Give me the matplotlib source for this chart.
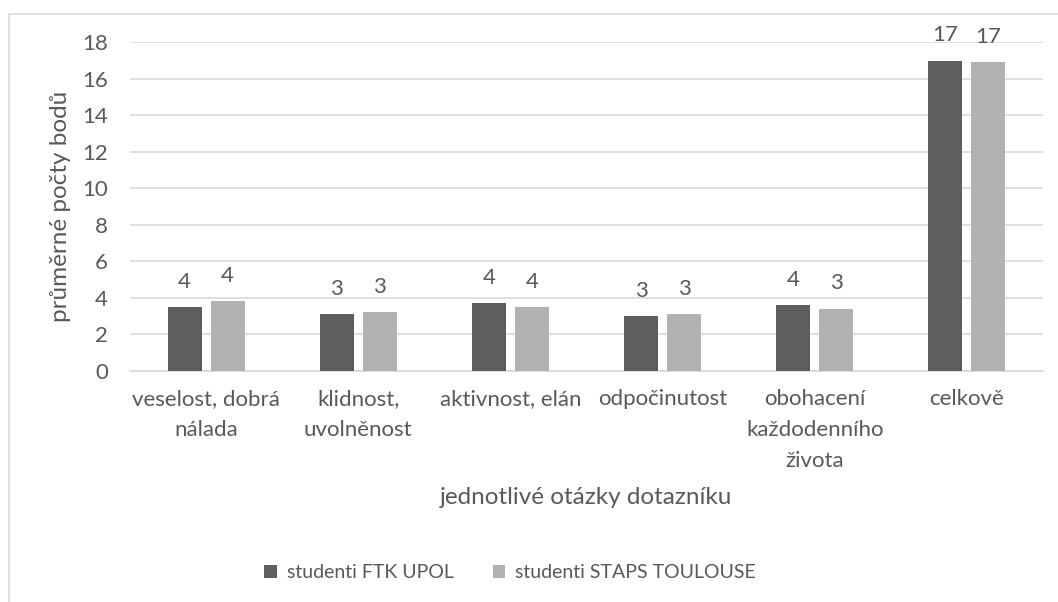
import matplotlib.pyplot as plt
from matplotlib.patches import Rectangle
import numpy as np

plt.rcParams['font.family'] = ['Lato', 'DejaVu Sans']

# data
categories = ["veselost, dobrá\nnálada", "klidnost,\nuvolněnost", "aktivnost, elán",
              "odpočinutost", "obohacení\nkaždodenního\nživota", "celkově"]
ftk_upol = [3.5, 3.1, 3.7, 3.0, 3.6, 17.0]
staps_toulouse = [3.8, 3.2, 3.5, 3.1, 3.4, 16.9]
series_names = ["studenti FTK UPOL", "studenti STAPS TOULOUSE"]
y_ticks = [0, 2, 4, 6, 8, 10, 12, 14, 16, 18]

TXT = '#595959'
GRID = '#D9D9D9'
DARK = '#5E5E5E'
LIGHT = '#B2B2B2'

fig = plt.figure(figsize=(10.58, 6.02), dpi=100)
W, H = 1058, 602
ax = fig.add_axes([130 / W, 1 - 370.7 / H, (1043 - 130) / W, (370.7 - 42.3) / H])

# outer chart border (cut at right/bottom like the source)
fig.patches.append(Rectangle((8.5 / W, -0.1), 1.2, 1 - 13.5 / H + 0.1,
                             transform=fig.transFigure, fill=False,
                             edgecolor=GRID, linewidth=1.2))

x = np.arange(len(categories))
bw = 0.224
off = 0.1415
b1 = ax.bar(x - off, ftk_upol, bw, color=DARK, label=series_names[0], zorder=3)
b2 = ax.bar(x + off, staps_toulouse, bw, color=LIGHT, label=series_names[1], zorder=3)

for bars, vals in ((b1, ftk_upol), (b2, staps_toulouse)):
    for r, v in zip(bars, vals):
        ax.annotate(str(int(v + 0.5)), (r.get_x() + r.get_width() / 2, v),
                    xytext=(0, 11), textcoords='offset points',
                    ha='center', va='bottom', fontsize=16, color=TXT)

ax.set_xlim(-0.5, len(categories) - 0.5)
ax.set_ylim(0, 18)
ax.set_yticks(y_ticks)
ax.set_xticks(x)
ax.set_xticklabels(categories, linespacing=1.7)
ax.tick_params(axis='both', length=0, labelsize=16, colors=TXT)
ax.tick_params(axis='x', pad=13)
ax.tick_params(axis='y', pad=16)
ax.yaxis.grid(True, color=GRID, linewidth=1.2, zorder=0)
for s in ('top', 'right', 'left'):
    ax.spines[s].set_visible(False)
ax.spines['bottom'].set_color(GRID)
ax.spines['bottom'].set_linewidth(1.2)

ax.set_ylabel("průměrné počty bodů", fontsize=17.5, color=TXT, labelpad=8)
fig.text(586 / W, 1 - 498 / H, "jednotlivé otázky dotazníku", fontsize=17.5,
         color=TXT, ha='center', va='center')

fig.legend(handles=[b1, b2], loc='center', bbox_to_anchor=(510 / W, 1 - 573 / H),
           ncol=2, frameon=False, fontsize=14, labelcolor=TXT,
           handlelength=0.65, handleheight=0.65, handletextpad=0.5, columnspacing=2.0)

fig.savefig('out.png', dpi=100)
